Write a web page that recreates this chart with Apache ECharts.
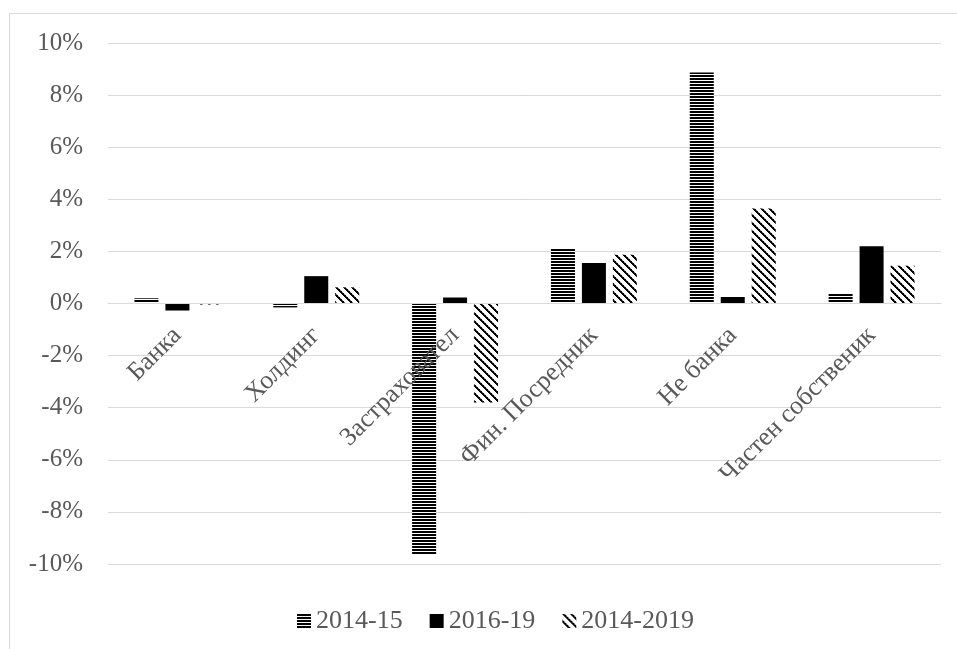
<!DOCTYPE html>
<html>
<head>
<meta charset="utf-8">
<script src="https://cdn.jsdelivr.net/npm/echarts@6/dist/echarts.min.js"></script>
<style>
  html, body { margin: 0; padding: 0; background: #fff; }
  #chart { width: 957px; height: 649px; }
</style>
</head>
<body>
<div id="chart"></div>
<script>
// Categories and values (percent)
const categories = ['Банка', 'Холдинг', 'Застраховател', 'Фин. Посредник', 'Не банка', 'Частен собственик'];
const seriesNames = ['2014-15', '2016-19', '2014-2019'];
const values2014_15 = [0.2, -0.15, -9.65, 2.1, 8.87, 0.4];
const values2016_19 = [-0.27, 1.05, 0.23, 1.55, 0.25, 2.2];
const values2014_2019 = [-0.04, 0.62, -3.8, 1.87, 3.65, 1.45];
const yTicks = { min: -10, max: 10, step: 2 };

// Fill patterns
function stripePattern() {
  const c = document.createElement('canvas');
  c.width = 4; c.height = 3;
  const g = c.getContext('2d');
  g.fillStyle = '#fff'; g.fillRect(0, 0, 4, 3);
  g.fillStyle = '#000'; g.fillRect(0, 0, 4, 2);
  return { image: c, repeat: 'repeat' };
}
function diagonalPattern() {
  const n = 8;
  const c = document.createElement('canvas');
  c.width = n; c.height = n;
  const g = c.getContext('2d');
  g.fillStyle = '#fff'; g.fillRect(0, 0, n, n);
  for (let i = 0; i < n; i++) {
    g.fillStyle = '#000';
    g.fillRect(i, i, 1, 1);
    g.fillRect((i + 1) % n, i, 1, 1);
    g.fillStyle = i % 2 ? '#000' : '#666';
    g.fillRect((i + 2) % n, i, 1, 1);
  }
  return { image: c, repeat: 'repeat' };
}

const fills = [stripePattern(), '#000000', diagonalPattern()];
const allValues = [values2014_15, values2016_19, values2014_2019];

const font = '"Liberation Serif", "DejaVu Serif", serif';
const gridTop = 43, gridBottom = 85;
const plotHeight = 649 - gridTop - gridBottom;
// keep the category axis (line and labels) on the 0% level
const zeroShift = -plotHeight * (0 - yTicks.min) / (yTicks.max - yTicks.min);

const chart = echarts.init(document.getElementById('chart'), null, { renderer: 'canvas' });

chart.setOption({
  backgroundColor: '#ffffff',
  animation: false,
  textStyle: { fontFamily: font },
  graphic: [{
    type: 'rect',
    shape: { x: 9.5, y: 13.5, width: 960, height: 660 },
    style: { fill: 'none', stroke: '#d9d9d9', lineWidth: 1 },
    silent: true, z: -1
  }],
  grid: { left: 108, right: 16, top: gridTop, bottom: gridBottom, containLabel: false },
  legend: {
    bottom: 10,
    left: 292,
    icon: 'rect',
    itemWidth: 14,
    itemHeight: 14,
    itemGap: 27,
    textStyle: { fontFamily: font, fontSize: 26, color: '#595959' },
    data: seriesNames
  },
  xAxis: {
    type: 'category',
    data: categories,
    z: 10,
    offset: zeroShift,
    axisLine: { onZero: false, lineStyle: { color: '#d9d9d9', width: 1 } },
    axisTick: { show: false },
    axisLabel: {
      rotate: 45,
      interval: 0,
      margin: 28,
      fontFamily: font,
      fontSize: 26,
      color: '#595959'
    },
    splitLine: { show: false }
  },
  yAxis: {
    type: 'value',
    min: yTicks.min,
    max: yTicks.max,
    interval: yTicks.step,
    axisLine: { show: false },
    axisTick: { show: false },
    axisLabel: {
      formatter: '{value}%',
      margin: 25,
      fontFamily: font,
      fontSize: 25,
      color: '#595959'
    },
    splitLine: { lineStyle: { color: '#d9d9d9', width: 1 } }
  },
  series: seriesNames.map((name, i) => ({
    name: name,
    type: 'bar',
    data: allValues[i],
    barWidth: 24,
    barGap: '29%',
    itemStyle: { color: fills[i] }
  }))
});
</script>
</body>
</html>
